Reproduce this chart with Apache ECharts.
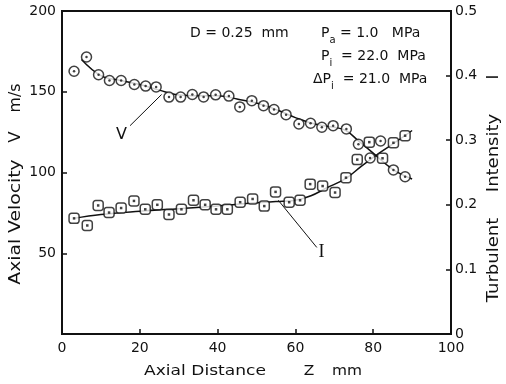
<!DOCTYPE html>
<html><head><meta charset="utf-8">
<script src="https://cdn.jsdelivr.net/npm/echarts@6/dist/echarts.min.js"></script>
<style>html,body{margin:0;padding:0;background:#fff}#c{width:506px;height:384px}</style>
</head><body><div id="c"></div>
<script>
// Axial velocity V (circles)
const zV = [3.1,6.3,9.4,12.2,15.2,18.6,21.5,24.2,27.5,30.5,33.5,36.4,39.5,42.9,45.7,48.8,51.8,54.5,57.6,60.9,63.9,66.8,69.7,73.1,76.2,79.2,81.9,85.2,88.2];
const vV = [162.7,171.5,160.5,157,157,154.5,153.5,153,146.7,146.7,148.3,146.8,148.1,147.3,140.6,144.5,141.4,139,135.8,130,130.5,128,129,127,117.5,109,119.5,101.6,97.4];
// Turbulent intensity I (squares)
const zI = [3.1,6.5,9.3,12.1,15.2,18.5,21.4,24.5,27.5,30.7,33.8,36.8,39.6,42.5,45.8,49.0,52.0,54.9,58.4,61.2,63.8,67.0,70.2,73.0,75.9,79.0,82.4,85.2,88.2];
const iI = [0.179,0.168,0.199,0.188,0.195,0.206,0.193,0.200,0.185,0.193,0.207,0.200,0.193,0.193,0.204,0.209,0.198,0.220,0.204,0.207,0.232,0.229,0.219,0.242,0.270,0.297,0.272,0.296,0.307];
// fitted curves
const zVfit = [5,10,15,20,25,30,35,40,45,50,55,60,65,70,73,76,80,85,90];
const vFit = [170,160,157,154.5,151,148,147.5,147.5,145.5,143,139,134,130,128,126,120,112,102,96];
const zIfit = [3,10,20,30,40,45,50,55,60,64,68,73,77,82,86,90];
const iFit = [0.179,0.185,0.190,0.194,0.198,0.201,0.203,0.205,0.207,0.214,0.226,0.241,0.260,0.282,0.298,0.315];
// annotation leaders
const vLeader = [[17.5,129],[25.6,148.3]];
const iLeader = [[55.6,0.207],[65.5,0.134]];
const vLabelAt = [15.3,123.4];
const iLabelAt = [66.7,0.127];
const xTicks = [0,20,40,60,80,100];

const F = 'DejaVu Sans';
const FS = 14;
const pair = (a,b) => a.map((x,k)=>[x,b[k]]);
const mctx = document.createElement('canvas').getContext('2d');
function tw(s, size){ mctx.font = size + 'px "' + F + '"'; return mctx.measureText(s).width; }

// text with subscript: head, sub, tail
function subText(left, top, head, sub, tail){
  const w1 = tw(head, FS), w2 = tw(sub, 10);
  const st = {fill:'#111',fontFamily:F,fontSize:FS};
  return [
    {type:'text',left:left,top:top,style:Object.assign({text:head},st)},
    {type:'text',left:left+w1,top:top+9,style:{text:sub,fill:'#111',fontFamily:F,fontSize:10}},
    {type:'text',left:left+w1+w2,top:top,style:Object.assign({text:tail},st)}
  ];
}
// axis-title word, centred at (x,y), optionally rotated and stretched
function word(text, x, y, size, stretch, rot){
  return {type:'text',x:x,y:y,rotation:rot||0,scaleX:stretch,
    style:{text:text,fill:'#111',fontFamily:F,fontSize:size,align:'center',verticalAlign:'middle'}};
}

const chart = echarts.init(document.getElementById('c'));
const axisCommon = {
  axisLine:{show:true,lineStyle:{color:'#111',width:2}},
  axisTick:{show:true,inside:true,length:5,lineStyle:{color:'#111',width:1.5}},
  splitLine:{show:false},
  axisLabel:{color:'#111',fontFamily:F,fontSize:FS}
};
const R = Math.PI/2;
chart.setOption({
  animation:false,
  backgroundColor:'#fff',
  grid:{left:62,right:55,top:11,bottom:50,show:true,borderColor:'#111',borderWidth:2},
  xAxis:Object.assign({},axisCommon,{type:'value',min:0,max:100,interval:20,
    axisLabel:Object.assign({},axisCommon.axisLabel,{margin:7,formatter:v=>xTicks.includes(v)?String(v):''})}),
  yAxis:[
    Object.assign({},axisCommon,{type:'value',min:0,max:200,interval:50,
      axisLabel:Object.assign({},axisCommon.axisLabel,{showMinLabel:false,margin:6})}),
    Object.assign({},axisCommon,{type:'value',min:0,max:0.5,interval:0.1,position:'right',
      axisLabel:Object.assign({},axisCommon.axisLabel,{margin:4,formatter:v=>v===0?'0':String(+v.toFixed(1))})})
  ],
  graphic:[
    {type:'text',left:190,top:26,style:{text:'D = 0.25  mm',fill:'#111',fontFamily:F,fontSize:FS}},
    // axis titles
    word('Axial Distance',205,371,14,1.22,0),
    word('Z',309,371,14,1.1,0),
    word('mm',347,371,14,1.1,0),
    word('Axial Velocity',16,222,15,1.25,R),
    word('V',16,137,15,1.1,R),
    word('m/s',16,98,15,1.05,R),
    word('Turbulent',494,260,15,1.2,R),
    word('Intensity',494,153,15,1.2,R),
    word('I',494,77,15,1.1,R)
  ].concat(
    subText(321,26,'P','a',' = 1.0   MPa'),
    subText(321,49,'P','i','  = 22.0  MPa'),
    subText(313,72,'ΔP','i','  = 21.0  MPa')
  ),
  series:[
    {type:'line',data:pair(zVfit,vFit),smooth:0.4,symbol:'none',yAxisIndex:0,
      lineStyle:{color:'#111',width:1.5},z:2,
      markLine:{silent:true,symbol:'none',lineStyle:{color:'#111',width:1,type:'solid'},label:{show:false},
        data:[[{coord:vLeader[0]},{coord:vLeader[1]}]]},
      markPoint:{symbol:'circle',symbolSize:1,itemStyle:{color:'rgba(0,0,0,0)'},
        label:{show:true,position:'inside',color:'#111',fontFamily:F,fontSize:16,formatter:'V'},
        data:[{coord:vLabelAt}]}},
    {type:'line',data:pair(zIfit,iFit),smooth:0.4,symbol:'none',yAxisIndex:1,
      lineStyle:{color:'#111',width:1.5},z:2,
      markLine:{silent:true,symbol:'none',lineStyle:{color:'#111',width:1,type:'solid'},label:{show:false},
        data:[[{coord:iLeader[0]},{coord:iLeader[1]}]]},
      markPoint:{symbol:'circle',symbolSize:1,itemStyle:{color:'rgba(0,0,0,0)'},
        label:{show:true,position:'inside',color:'#111',fontFamily:'Liberation Serif',fontSize:18,formatter:'I'},
        data:[{coord:iLabelAt}]}},
    {type:'scatter',data:pair(zV,vV),yAxisIndex:0,symbol:'circle',symbolSize:10,z:3,
      itemStyle:{color:'#fff',borderColor:'#111',borderWidth:1.5}},
    {type:'scatter',data:pair(zV,vV),yAxisIndex:0,symbol:'circle',symbolSize:2.5,z:4,
      itemStyle:{color:'#111'}},
    {type:'scatter',data:pair(zI,iI),yAxisIndex:1,symbol:'roundRect',symbolSize:10,z:3,
      itemStyle:{color:'#fff',borderColor:'#111',borderWidth:1.5}},
    {type:'scatter',data:pair(zI,iI),yAxisIndex:1,symbol:'rect',symbolSize:2.5,z:4,
      itemStyle:{color:'#111'}}
  ]
});
</script></body></html>
